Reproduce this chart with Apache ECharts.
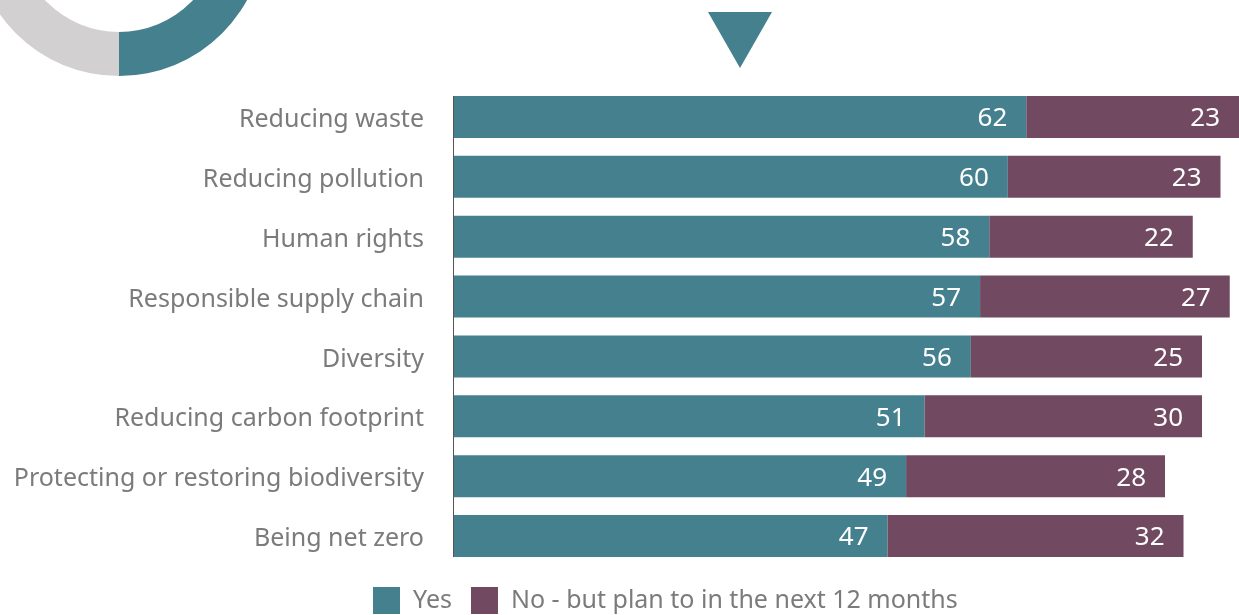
<!DOCTYPE html>
<html><head><meta charset="utf-8">
<script src="https://cdn.jsdelivr.net/npm/echarts@6/dist/echarts.min.js"></script>
<style>html,body{margin:0;padding:0;background:#fff}#c{width:1239px;height:615px}</style>
</head><body><div id="c"></div>
<script>
const categories = ["Reducing waste","Reducing pollution","Human rights","Responsible supply chain","Diversity","Reducing carbon footprint","Protecting or restoring biodiversity","Being net zero"];
const yesValues = [62,60,58,57,56,51,49,47];
const planValues = [23,23,22,27,25,30,28,32];
const seriesNames = ["Yes","No - but plan to in the next 12 months"];
const donutValues = [50,50];

const TEAL = '#45808e', PURPLE = '#714a62', GRAY = '#7b7b7b';
const FONT = 'Noto Sans';
const chart = echarts.init(document.getElementById('c'));
const labelCfg = {show:true, position:'insideRight', distance:19, offset:[0,2], color:'#fff', fontSize:26, fontFamily:FONT};
chart.setOption({
  animation:false,
  textStyle:{fontFamily:FONT},
  grid:{left:453, right:0, top:87, bottom:49, containLabel:false},
  xAxis:{type:'value', min:0, max:85, show:false},
  yAxis:{type:'category', data:categories, inverse:true,
    axisLine:{show:false}, axisTick:{show:false},
    axisLabel:{color:GRAY, fontSize:25, margin:29, fontFamily:FONT,
      formatter: v => '{t|' + v + '}',
      rich:{t:{color:GRAY, fontSize:25, fontFamily:FONT, padding:[6,0,0,0]}}}},
  legend:{left:373, bottom:1, padding:0, itemWidth:27, itemHeight:27, itemGap:19, icon:'rect',
    textStyle:{color:GRAY, fontSize:25, fontFamily:FONT, padding:[0,0,0,8]}},
  series:[
    {name:seriesNames[0], type:'bar', stack:'s', data:yesValues, barWidth:42, itemStyle:{color:TEAL}, label:labelCfg},
    {name:seriesNames[1], type:'bar', stack:'s', data:planValues, barWidth:42, itemStyle:{color:PURPLE}, label:labelCfg},
    {type:'pie', center:[119,-70], radius:[102,146], startAngle:90, clockwise:true, silent:true,
     label:{show:false}, labelLine:{show:false},
     data:[{value:donutValues[0], itemStyle:{color:TEAL}},{value:donutValues[1], itemStyle:{color:'#d3d0d1'}}]}
  ]
});
const yTop = chart.convertToPixel({yAxisIndex:0}, 0) - 21;
const yBot = chart.convertToPixel({yAxisIndex:0}, categories.length-1) + 21;
chart.setOption({graphic:[
  {type:'line', shape:{x1:453.5,y1:yTop,x2:453.5,y2:yBot}, style:{stroke:'#555', lineWidth:1}, z:10},
  {type:'polygon', shape:{points:[[708,12],[772,12],[740,68]]}, style:{fill:TEAL}}
]});
</script></body></html>
